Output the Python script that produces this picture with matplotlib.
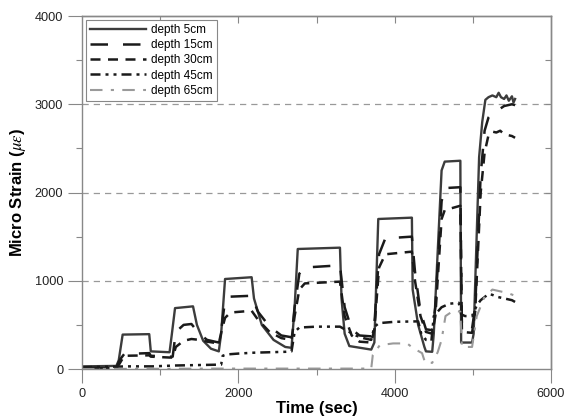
import numpy as np
import matplotlib
matplotlib.use("Agg")
import matplotlib.pyplot as plt

plt.rcParams['font.family'] = ['Liberation Sans', 'DejaVu Sans']
plt.rcParams['mathtext.fontset'] = 'stix'

# depth 5cm
t5 = [0, 440, 470, 520, 860, 880, 1120, 1150, 1190, 1420, 1470, 1550, 1650, 1750,
      1780, 1830, 2170, 2200, 2300, 2450, 2600, 2680, 2720, 2760, 3300, 3320, 3360,
      3420, 3700, 3740, 3790, 4220, 4230, 4300, 4380, 4400, 4480, 4500, 4600, 4640,
      4840, 4850, 4990, 5010, 5080, 5120, 5160, 5200, 5250, 5300, 5330, 5360, 5400,
      5430, 5460, 5500, 5520, 5540]
y5 = [30, 35, 100, 390, 395, 200, 190, 400, 690, 710, 500, 320, 230, 200,
      400, 1020, 1040, 800, 500, 330, 250, 240, 700, 1360, 1375, 800, 400,
      260, 220, 300, 1700, 1715, 900, 500, 250, 200, 195, 400, 2250, 2350,
      2360, 300, 300, 400, 2400, 2800, 3050, 3080, 3100, 3080, 3130, 3080, 3060,
      3100, 3040, 3090, 3020, 3060]

# depth 15cm
t15 = [0, 440, 480, 540, 860, 880, 1120, 1160, 1200, 1300, 1400, 1500, 1600, 1750,
       1790, 1830, 1900, 2170, 2250, 2400, 2550, 2680, 2720, 2780, 2850, 3300, 3360,
       3450, 3550, 3700, 3740, 3800, 3880, 4220, 4260, 4330, 4400, 4480, 4520, 4600,
       4640, 4840, 4860, 4990, 5030, 5100, 5150, 5200, 5250, 5300, 5350, 5400, 5450,
       5500, 5540]
y15 = [15, 15, 100, 170, 180, 150, 140, 140, 420, 500, 510, 400, 330, 300,
       500, 780, 820, 830, 650, 480, 380, 360, 700, 1080, 1150, 1175, 700,
       450, 380, 370, 500, 1300, 1480, 1500, 1100, 650, 450, 440, 700, 1900,
       2050, 2060, 470, 460, 700, 2200, 2700, 2850, 2900, 2920, 2950, 2980, 2990,
       3000, 2990]

# depth 30cm
t30 = [0, 440, 480, 540, 860, 880, 1120, 1160, 1200, 1300, 1400, 1500, 1600, 1750,
       1790, 1830, 1900, 2170, 2250, 2400, 2550, 2680, 2720, 2780, 2850, 3300, 3360,
       3450, 3550, 3700, 3740, 3800, 3880, 4220, 4260, 4330, 4400, 4480, 4520, 4600,
       4640, 4840, 4860, 4990, 5030, 5100, 5150, 5200, 5250, 5300, 5350, 5400, 5450,
       5500, 5540]
y30 = [10, 10, 60, 150, 155, 140, 130, 130, 250, 320, 340, 330, 310, 290,
       450, 580, 640, 660, 560, 420, 350, 330, 600, 900, 970, 990, 600,
       380, 310, 300, 450, 1150, 1300, 1330, 1000, 600, 420, 400, 600, 1700,
       1800, 1850, 420, 410, 650, 2000, 2450, 2650, 2690, 2680, 2700, 2660, 2650,
       2640, 2620]

# depth 45cm
t45 = [0, 300, 600, 900, 1200, 1500, 1780, 1800, 1850, 2000, 2200, 2400, 2600, 2680,
       2720, 2780, 3000, 3300, 3400, 3500, 3600, 3700, 3740, 3800, 4000, 4300, 4340,
       4400, 4470, 4500, 4600, 4700, 4820, 4850, 4900, 4990, 5050, 5100, 5200, 5250,
       5300, 5400, 5500, 5540]
y45 = [20, 25, 30, 30, 40, 45, 50, 150, 165, 175, 185, 190, 195, 200,
       420, 470, 480, 480, 430, 380, 350, 330, 480, 520, 535, 540, 400,
       330, 320, 600, 700, 740, 750, 620, 600, 600, 720, 780, 850, 840,
       820, 800, 780, 760]

# depth 65cm
t65 = [0, 1800, 3000, 3700, 3720, 3810, 3980, 4160, 4230, 4350, 4390, 4480, 4550,
       4600, 4650, 4750, 4840, 4860, 4990, 5050, 5150, 5250, 5350, 5450, 5540]
y65 = [0, 5, 5, 5, 160, 270, 290, 290, 240, 180, 70, 70, 190,
       330, 600, 660, 650, 250, 250, 600, 820, 900, 880, 860, 830]

fig = plt.figure(figsize=(5.64, 4.19), dpi=100)
ax = fig.add_axes([0.1454, 0.1193, 0.8316, 0.8425])

ax.plot(t5, y5, color='#3c3c3c', lw=1.7, ls='-', label='depth 5cm')
ax.plot(t15, y15, color='#1a1a1a', lw=1.8, ls=(0, (7, 6)), label='depth 15cm')
ax.plot(t30, y30, color='#1a1a1a', lw=1.8, ls=(0, (4, 3)), label='depth 30cm')
ax.plot(t45, y45, color='#1a1a1a', lw=1.8, ls=(0, (4, 2, 1.2, 2, 1.2, 2)), label='depth 45cm')
ax.plot(t65, y65, color='#9a9a9a', lw=1.5, ls=(0, (6, 4, 1.5, 4)), label='depth 65cm')

for gy in [1000, 2000, 3000]:
    ax.axhline(gy, color='#999999', lw=0.9, ls=(0, (5, 4)), zorder=0)

ax.set_xlim(0, 6000)
ax.set_ylim(0, 4000)
ax.set_xticks([0, 2000, 4000, 6000])
ax.set_xticks([1000, 3000, 5000], minor=True)
ax.set_yticks([0, 1000, 2000, 3000, 4000])
ax.set_yticks([500, 1500, 2500, 3500], minor=True)
ax.tick_params(which='major', direction='out', length=10, width=0.8, color='#888888',
               labelsize=9.2, labelcolor='#222222', pad=3.5)
ax.tick_params(which='minor', direction='out', length=4.3, width=0.8, color='#888888')

top = ax.secondary_xaxis('top')
top.set_xticks([1000, 2000, 3000, 4000, 5000])
top.tick_params(direction='in', length=5, width=0.8, color='#888888', labeltop=False)
right = ax.secondary_yaxis('right')
right.set_yticks([500, 1000, 1500, 2000, 2500, 3000, 3500])
right.tick_params(direction='in', length=4, width=0.8, color='#888888', labelright=False)
for a in (ax, top, right):
    for s in a.spines.values():
        s.set_color('#888888')
        s.set_linewidth(1.0)

ax.set_xlabel('Time (sec)', fontsize=12, fontweight='bold', labelpad=1)
ax.set_ylabel(r'Micro Strain ($\mu\varepsilon$)', fontsize=12, fontweight='bold', labelpad=5)

leg = ax.legend(loc='upper left', fontsize=8.5, handlelength=4.8, labelspacing=0.28,
                fancybox=False, framealpha=1, edgecolor='#888888',
                borderaxespad=0.3, handletextpad=0.4, borderpad=0.35)
leg.get_frame().set_linewidth(0.8)

fig.savefig('out.png', dpi=100)
